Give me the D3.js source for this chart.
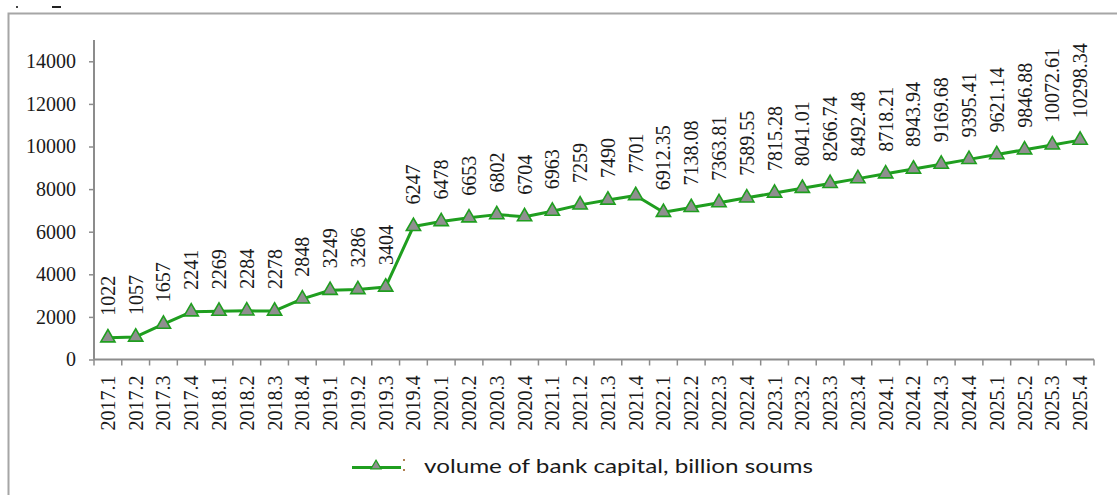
<!DOCTYPE html>
<html>
<head>
<meta charset="utf-8">
<script src="https://cdn.jsdelivr.net/npm/d3@7/dist/d3.min.js"></script>
<style>
  html, body { margin: 0; padding: 0; background: #fff; }
  svg { display: block; }
</style>
</head>
<body>
<svg id="chart" width="1117" height="495"></svg>
<script>
// Quarterly periods
const categories = [
  "2017.1","2017.2","2017.3","2017.4",
  "2018.1","2018.2","2018.3","2018.4",
  "2019.1","2019.2","2019.3","2019.4",
  "2020.1","2020.2","2020.3","2020.4",
  "2021.1","2021.2","2021.3","2021.4",
  "2022.1","2022.2","2022.3","2022.4",
  "2023.1","2023.2","2023.3","2023.4",
  "2024.1","2024.2","2024.3","2024.4",
  "2025.1","2025.2","2025.3","2025.4"
];

// Volume of bank capital, billion soums
const capital = [
  1022, 1057, 1657, 2241,
  2269, 2284, 2278, 2848,
  3249, 3286, 3404, 6247,
  6478, 6653, 6802, 6704,
  6963, 7259, 7490, 7701,
  6912.35, 7138.08, 7363.81, 7589.55,
  7815.28, 8041.01, 8266.74, 8492.48,
  8718.21, 8943.94, 9169.68, 9395.41,
  9621.14, 9846.88, 10072.61, 10298.34
];

// Printed value labels
const valueLabels = [
  "1022","1057","1657","2241",
  "2269","2284","2278","2848",
  "3249","3286","3404","6247",
  "6478","6653","6802","6704",
  "6963","7259","7490","7701",
  "6912.35","7138.08","7363.81","7589.55",
  "7815.28","8041.01","8266.74","8492.48",
  "8718.21","8943.94","9169.68","9395.41",
  "9621.14","9846.88","10072.61","10298.34"
];

const yTicks = [0, 2000, 4000, 6000, 8000, 10000, 12000, 14000];
const yMax = 15000;
const seriesName = "volume of bank capital, billion soums";

const svg = d3.select("#chart");
const lineGreen = "#1f9e1f";
const markerFill = "#8f8f8f";
const axisGrey = "#8c8c8c";
const serif = "'Liberation Serif', 'Times New Roman', serif";

// Frame of the chart area
svg.append("path")
  .attr("d", "M8.5,495 V13.5 H1117")
  .attr("fill", "none")
  .attr("stroke", "#a6a6a6")
  .attr("stroke-width", 2);

// Small marks along the top edge
svg.append("rect").attr("x", 16).attr("y", 6).attr("width", 2).attr("height", 2).attr("fill", "#444");
svg.append("rect").attr("x", 52).attr("y", 6).attr("width", 9).attr("height", 2).attr("fill", "#222");

const plot = { left: 94, right: 1094, top: 40, bottom: 359.5 };

const x = d3.scaleBand()
  .domain(categories)
  .range([plot.left, plot.right])
  .paddingInner(0).paddingOuter(0);

const y = d3.scaleLinear()
  .domain([0, yMax])
  .range([plot.bottom, plot.top]);

const cx = d => x(d) + x.bandwidth() / 2;

// Y axis
const yAxis = svg.append("g")
  .attr("transform", `translate(${plot.left},0)`)
  .call(d3.axisLeft(y).tickValues(yTicks).tickSize(5).tickPadding(13).tickFormat(d3.format("d")));
yAxis.select(".domain").attr("stroke", axisGrey).attr("stroke-width", 2).attr("d", `M0,${plot.bottom}V${plot.top}`);
yAxis.selectAll(".tick line").attr("stroke", axisGrey).attr("stroke-width", 1.5);
yAxis.selectAll(".tick text")
  .attr("font-family", serif).attr("font-size", 20).attr("fill", "#1a1a1a");

// X axis with ticks between categories
const xAxis = svg.append("g")
  .attr("transform", `translate(0,${plot.bottom})`);
xAxis.append("path")
  .attr("d", `M${plot.left},0H${plot.right}`)
  .attr("stroke", axisGrey).attr("stroke-width", 2);
const boundaries = categories.map(c => x(c)).concat([x(categories[categories.length - 1]) + x.bandwidth()]);
xAxis.selectAll("line.tick")
  .data(boundaries)
  .join("line")
  .attr("class", "tick")
  .attr("x1", d => d).attr("x2", d => d)
  .attr("y1", 0).attr("y2", 6)
  .attr("stroke", axisGrey).attr("stroke-width", 1.5);
xAxis.selectAll("text")
  .data(categories)
  .join("text")
  .attr("transform", d => `translate(${cx(d) + 7},16) rotate(-90)`)
  .attr("text-anchor", "end")
  .attr("font-family", serif).attr("font-size", 20).attr("fill", "#1a1a1a")
  .text(d => d);

// Series line
const data = categories.map((c, i) => ({ c, v: capital[i], label: valueLabels[i] }));
const line = d3.line().x(d => cx(d.c)).y(d => y(d.v));
svg.append("path")
  .datum(data)
  .attr("d", line)
  .attr("fill", "none")
  .attr("stroke", lineGreen)
  .attr("stroke-width", 3)
  .attr("stroke-linejoin", "round");

// Triangle markers
const tri = d3.symbol().type(d3.symbolTriangle).size(88);
svg.selectAll("path.marker")
  .data(data)
  .join("path")
  .attr("class", "marker")
  .attr("d", tri)
  .attr("transform", d => `translate(${cx(d.c)},${y(d.v)})`)
  .attr("fill", markerFill)
  .attr("stroke", lineGreen)
  .attr("stroke-width", 1.6);

// Value labels above each point
svg.selectAll("text.value")
  .data(data)
  .join("text")
  .attr("class", "value")
  .attr("transform", d => `translate(${cx(d.c) + 7},${y(d.v) - 22}) rotate(-90)`)
  .attr("text-anchor", "start")
  .attr("font-family", serif).attr("font-size", 20).attr("fill", "#1a1a1a")
  .text(d => d.label);

// Legend
const legend = svg.append("g");
legend.append("line")
  .attr("x1", 352).attr("x2", 401).attr("y1", 467.5).attr("y2", 467.5)
  .attr("stroke", lineGreen).attr("stroke-width", 3);
legend.append("path")
  .attr("d", d3.symbol().type(d3.symbolTriangle).size(45))
  .attr("transform", "translate(376,466)")
  .attr("fill", markerFill).attr("stroke", lineGreen).attr("stroke-width", 1.2);
legend.append("rect").attr("x", 403).attr("y", 459).attr("width", 2).attr("height", 2).attr("fill", "#b08050");
legend.append("rect").attr("x", 403).attr("y", 469).attr("width", 2).attr("height", 2).attr("fill", "#b08050");
legend.append("text")
  .attr("x", 424).attr("y", 473)
  .attr("font-family", "Lato, 'Open Sans', sans-serif")
  .attr("font-size", 20)
  .attr("fill", "#1a1a1a")
  .attr("textLength", 389)
  .attr("lengthAdjust", "spacingAndGlyphs")
  .text(seriesName);
</script>
</body>
</html>
